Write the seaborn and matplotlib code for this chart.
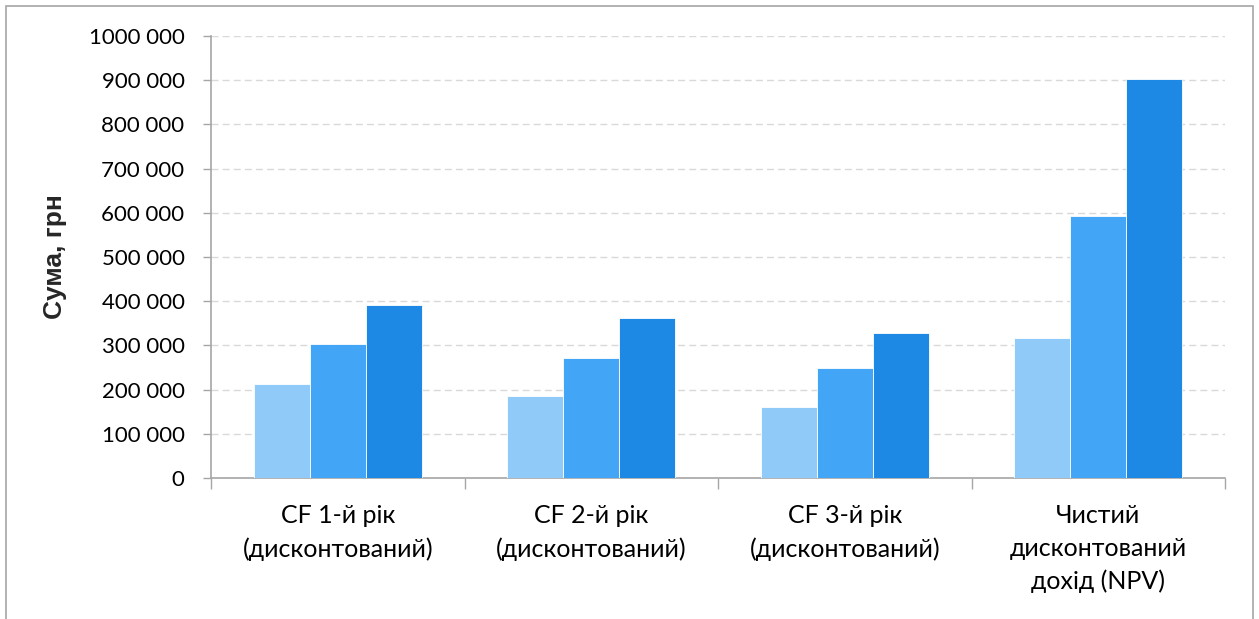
import matplotlib
matplotlib.use("Agg")
import matplotlib.pyplot as plt
from matplotlib.patches import Rectangle
import seaborn as sns
import pandas as pd

# Discounted cash flows by year and resulting NPV, three scenarios
categories = [
    "CF 1-й рік\n(дисконтований)",
    "CF 2-й рік\n(дисконтований)",
    "CF 3-й рік\n(дисконтований)",
    "Чистий\nдисконтований\nдохід (NPV)",
]
scenarios = ["Песимістичний", "Базовий", "Оптимістичний"]
pessimistic = [213000, 185500, 161000, 316500]
base = [303000, 271500, 249500, 593000]
optimistic = [391500, 362000, 328000, 902500]

y_ticks = [0, 100000, 200000, 300000, 400000, 500000,
           600000, 700000, 800000, 900000, 1000000]
y_tick_labels = ["0", "100 000", "200 000", "300 000", "400 000", "500 000",
                 "600 000", "700 000", "800 000", "900 000", "1000 000"]
y_label = "Сума, грн"

palette = ["#90CAF9", "#42A5F5", "#1E88E5"]

rows = []
for name, vals in zip(scenarios, [pessimistic, base, optimistic]):
    for cat, v in zip(categories, vals):
        rows.append({"category": cat, "scenario": name, "value": v})
df = pd.DataFrame(rows)

sns.set_theme(style="white")
plt.rcParams["font.family"] = ["Lato", "DejaVu Sans"]

fig = plt.figure(figsize=(12.59, 6.19), dpi=100)
ax = fig.add_axes([211 / 1259, (619 - 478) / 619, (1225 - 211) / 1259, (478 - 36) / 619])

sns.barplot(data=df, x="category", y="value", hue="scenario",
            order=categories, hue_order=scenarios, palette=palette,
            width=0.663, gap=0, edgecolor="white", linewidth=0.6,
            saturation=1, legend=False, ax=ax, zorder=3)

ax.set_xlim(-0.5, len(categories) - 0.5)
ax.set_ylim(0, 1000000)

# Y axis
ax.set_yticks(y_ticks)
ax.set_yticklabels(y_tick_labels, fontsize=16, color="black")
ax.yaxis.grid(True, color="#d9d9d9", linestyle=(0, (5, 3)), linewidth=1.0, zorder=0)
ax.tick_params(axis="y", which="major", direction="out", length=6, width=1,
               color="#a6a6a6", left=True, pad=13)

# X axis: ticks between categories, labels centred under groups
boundaries = [i - 0.5 for i in range(len(categories) + 1)]
ax.set_xticks(boundaries)
ax.set_xticklabels([""] * len(boundaries))
ax.set_xticks(range(len(categories)), minor=True)
ax.set_xticklabels(categories, minor=True, fontsize=18, color="black",
                   linespacing=1.5)
ax.tick_params(axis="x", which="major", direction="out", length=8, width=1,
               color="#a6a6a6", bottom=True)
ax.tick_params(axis="x", which="minor", length=0, pad=19)
ax.set_xlabel("")

ax.set_ylabel(y_label, fontsize=19, fontweight="bold",
              family=["Liberation Sans", "DejaVu Sans"], labelpad=16)

for side in ["top", "right"]:
    ax.spines[side].set_visible(False)
for side in ["left", "bottom"]:
    ax.spines[side].set_color("#a6a6a6")
    ax.spines[side].set_linewidth(1.2)

# Outer chart border (open at the bottom edge)
fig.patches.append(Rectangle((6 / 1259, -0.05), (1253 - 6) / 1259, (619 - 6) / 619 + 0.05,
                             transform=fig.transFigure, fill=False,
                             edgecolor="#a6a6a6", linewidth=1.2, clip_on=False))

fig.savefig("out.png", dpi=100, facecolor="white")
